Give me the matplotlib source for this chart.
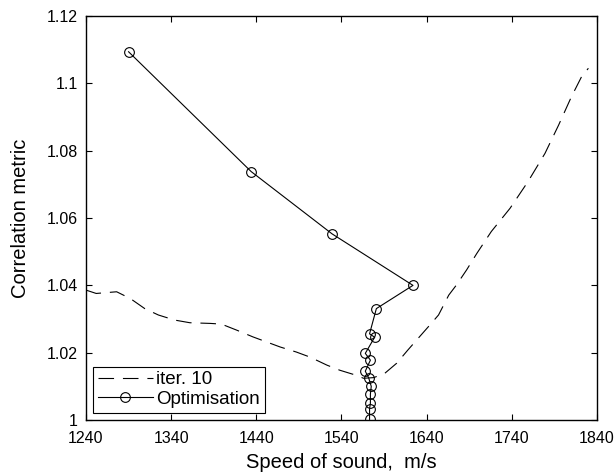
import numpy as np
import matplotlib.pyplot as plt

plt.rcParams["font.family"] = ["Liberation Sans", "DejaVu Sans"]

# optimisation path (speed of sound, correlation metric)
opt_speed = [1290, 1434, 1529, 1624, 1581, 1573, 1579, 1568, 1574, 1568,
             1572, 1575, 1574, 1574, 1573, 1573]
opt_metric = [1.1094, 1.0738, 1.0553, 1.0400, 1.0331, 1.0256, 1.0246, 1.0198,
              1.0178, 1.0145, 1.0125, 1.0100, 1.0077, 1.0050, 1.0033, 1.0002]

# correlation curve at iteration 10
iter_speed = [1240, 1252, 1276, 1292, 1309, 1325, 1344, 1362, 1386, 1399,
              1417, 1436, 1452, 1468, 1487, 1503, 1523, 1538, 1556, 1566,
              1578, 1591, 1605, 1618, 1642, 1654, 1666, 1675, 1687, 1699,
              1716, 1738, 1759, 1779, 1795, 1810, 1822, 1830]
iter_metric = [1.0386, 1.0376, 1.0381, 1.0361, 1.0331, 1.0312, 1.0297, 1.0289,
               1.0287, 1.0285, 1.0267, 1.0247, 1.0232, 1.0217, 1.0202, 1.0187,
               1.0163, 1.0148, 1.0134, 1.0124, 1.0126, 1.0139, 1.0169, 1.0208,
               1.0277, 1.0312, 1.0371, 1.0401, 1.0446, 1.0495, 1.0560, 1.0629,
               1.0708, 1.0792, 1.0876, 1.0960, 1.1020, 1.1045]

xticks = [1240, 1340, 1440, 1540, 1640, 1740, 1840]
yticks = [1, 1.02, 1.04, 1.06, 1.08, 1.1, 1.12]
ytick_labels = ["1", "1.02", "1.04", "1.06", "1.08", "1.1", "1.12"]

fig = plt.figure(figsize=(6.16, 4.73), dpi=100)
ax = fig.add_axes([0.1396, 0.112, 0.8294, 0.854])

ax.plot(iter_speed, iter_metric, color="black", lw=0.8,
        dashes=(14, 8), label="iter. 10")
ax.plot(opt_speed, opt_metric, color="black", lw=0.8, marker="o",
        markersize=7, markerfacecolor="none", markeredgewidth=0.8,
        label="Optimisation")

ax.set_xlim(1240, 1840)
ax.set_ylim(1, 1.12)
ax.set_xticks(xticks)
ax.set_yticks(yticks)
ax.set_yticklabels(ytick_labels)
ax.tick_params(direction="in", top=True, right=True, length=4,
               width=0.8, labelsize=11.5)
ax.tick_params(axis="x", pad=8)
ax.tick_params(axis="y", pad=6)
for s in ax.spines.values():
    s.set_linewidth(1.0)

ax.set_xlabel("Speed of sound,  m/s", fontsize=14.5, labelpad=5)
ax.set_ylabel("Correlation metric", fontsize=14.5, labelpad=12)

leg = ax.legend(loc="lower left", fontsize=13.5,
                fancybox=False, edgecolor="black", framealpha=1,
                handlelength=2.9, handletextpad=0.2, borderpad=0.25,
                labelspacing=0.12, borderaxespad=0.4)
leg.get_frame().set_linewidth(0.8)

fig.savefig("out.png", dpi=100)
